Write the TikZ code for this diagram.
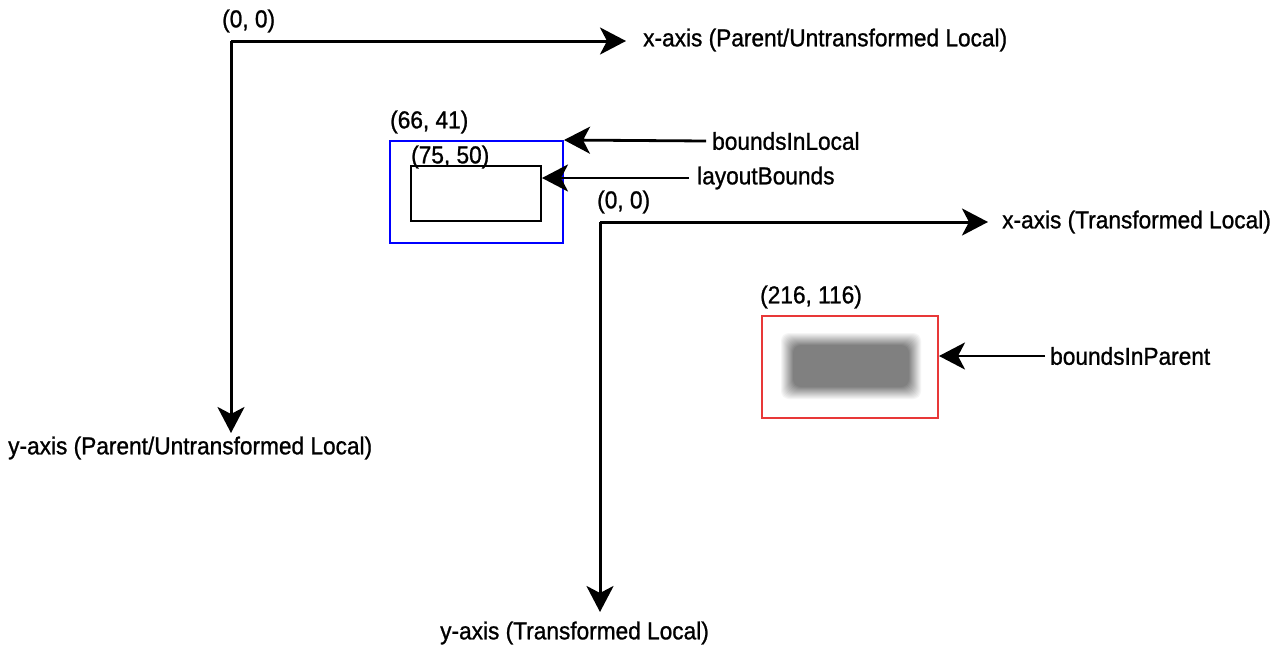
\documentclass[tikz,border=0pt]{standalone}
\usepackage{fontspec}
\setmainfont{Liberation Sans}[FakeStretch=0.925,FakeBold=1]
\usetikzlibrary{arrows.meta}
\begin{document}
\begin{tikzpicture}[x=1pt,y=-1pt,
  lbl/.style={inner sep=0pt,anchor=west,font=\fontsize{24.5}{28}\selectfont},
  axis/.style={line width=3pt,-{Stealth[length=26pt,width=27pt,inset=7pt]}},
  ptr/.style={line width=2.8pt,-{Stealth[length=26pt,width=27pt,inset=7pt]}},
  box/.style={draw,line width=2pt,inner sep=0pt,anchor=north west}]
\useasboundingbox[fill=white] (0,0) rectangle (1279,653);
% parent axes
\coordinate (o1) at (231,41);
\coordinate (x1) at (626,41);
\coordinate (y1) at (231,433);
\draw[axis] (o1) -- (x1);
\draw[axis] (o1) -- (y1);
\node[lbl] (o1l) at (222,21) {(0, 0)};
\node[lbl] (x1l) at (643,40) {x-axis (Parent/Untransformed Local)};
\node[lbl] (y1l) at (8,448) {y-axis (Parent/Untransformed Local)};
% local boxes
\node[box,draw=blue,minimum width=173pt,minimum height=102pt] (bil) at (389,140) {};
\node[box,draw=black,minimum width=130pt,minimum height=55pt] (lb) at (410,165) {};
\node[lbl] (bill) at (390,122) {(66, 41)};
\node[lbl] (lbl) at (411,157) {(75, 50)};
\node[lbl] (bilt) at (712,141) {boundsInLocal};
\node[lbl] (lbt) at (697,178) {layoutBounds};
\draw[ptr] ([xshift=-6pt]bilt.west) -- (bil.north east);
\draw[ptr] ([xshift=-8pt]lbt.west) -- (lbt.west -| lb.east);
% transformed axes
\coordinate (o2) at (600,222);
\coordinate (x2) at (988,222);
\coordinate (y2) at (600,612);
\draw[axis] (o2) -- (x2);
\draw[axis] (o2) -- (y2);
\node[lbl] (o2l) at (597,202) {(0, 0)};
\node[lbl] (x2l) at (1002,222) {x-axis (Transformed Local)};
\node[lbl] (y2l) at (440,633) {y-axis (Transformed Local)};
% parent bounds
\node[box,draw={rgb,255:red,232;green,56;blue,56},minimum width=176pt,minimum height=102pt] (bip) at (761,315) {};
\foreach \i in {0,...,12}{
  \pgfmathsetmacro{\d}{9-\i}
  \pgfmathsetmacro{\c}{50*(\i+1)/13}
  \fill[black!\c,rounded corners=8pt] (790-\d,342-\d) rectangle (912+\d,390+\d);
}
\node[lbl] (bipl) at (760,297) {(216, 116)};
\node[lbl] (bipt) at (1050,356) {boundsInParent};
\draw[ptr] ([xshift=-5pt]bipt.west) -- (bipt.west -| bip.east);
\end{tikzpicture}
\end{document}
